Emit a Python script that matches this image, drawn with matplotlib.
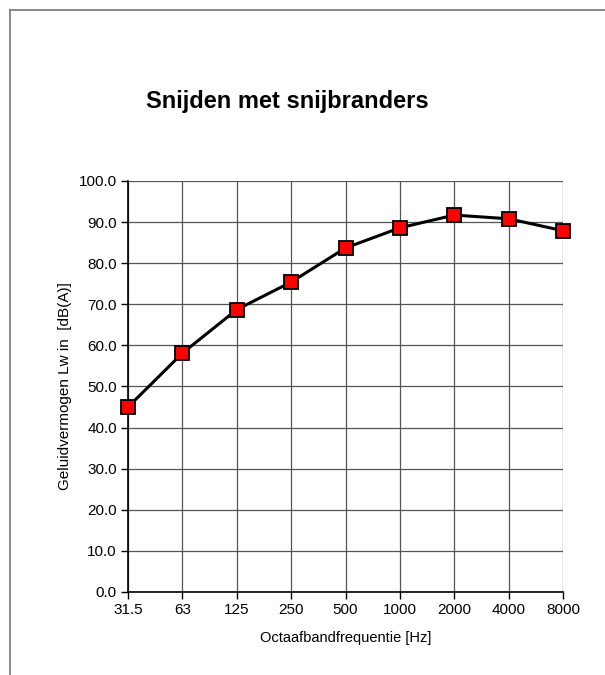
import matplotlib
matplotlib.use('Agg')
import matplotlib.pyplot as plt
from matplotlib.lines import Line2D
from matplotlib.ticker import FormatStrFormatter

# octave band levels
freq_labels = ['31.5', '63', '125', '250', '500', '1000', '2000', '4000', '8000']
lw_levels = [45.0, 58.1, 68.7, 75.4, 83.7, 88.6, 91.7, 90.8, 87.9]
y_ticks = [0, 10, 20, 30, 40, 50, 60, 70, 80, 90, 100]

plt.rcParams['font.family'] = ['Liberation Sans', 'DejaVu Sans']

fig = plt.figure(figsize=(6.05, 6.75), dpi=100)
ax = fig.add_axes([0.2116, 0.1230, 0.719, 0.6089])

x = list(range(len(freq_labels)))
ax.plot(x, lw_levels, color='black', linewidth=2.2, marker='s', markersize=10,
        markerfacecolor='#ff0000', markeredgecolor='black', markeredgewidth=1.3,
        zorder=3, clip_on=False)

ax.set_xlim(0, len(freq_labels) - 1)
ax.set_ylim(0, 100)
ax.set_xticks(x)
ax.set_xticklabels(freq_labels)
ax.set_yticks(y_ticks)
ax.yaxis.set_major_formatter(FormatStrFormatter('%.1f'))
ax.tick_params(direction='out', length=5, width=1, color='black', labelsize=11, pad=3)

ax.grid(True, color='#555555', linewidth=0.9)
ax.set_axisbelow(True)
for side in ('top', 'right'):
    ax.spines[side].set_visible(False)
for side in ('left', 'bottom'):
    ax.spines[side].set_color('black')
    ax.spines[side].set_linewidth(1.2)

ax.set_xlabel('Octaafbandfrequentie [Hz]', fontsize=10.5, labelpad=10)
ax.set_ylabel('Geluidvermogen Lw in  [dB(A)]', fontsize=11, labelpad=5)

fig.text(0.475, 0.85, 'Snijden met snijbranders', fontsize=17, fontweight='bold',
         ha='center', va='center')

# outer frame (left and top edges)
fig.add_artist(Line2D([10 / 605, 10 / 605], [0, 1 - 10 / 675], color='#777777', linewidth=1.2,
                      transform=fig.transFigure))
fig.add_artist(Line2D([10 / 605, 1], [1 - 10 / 675, 1 - 10 / 675], color='#777777', linewidth=1.2,
                      transform=fig.transFigure))

fig.savefig('out.png', dpi=100)
